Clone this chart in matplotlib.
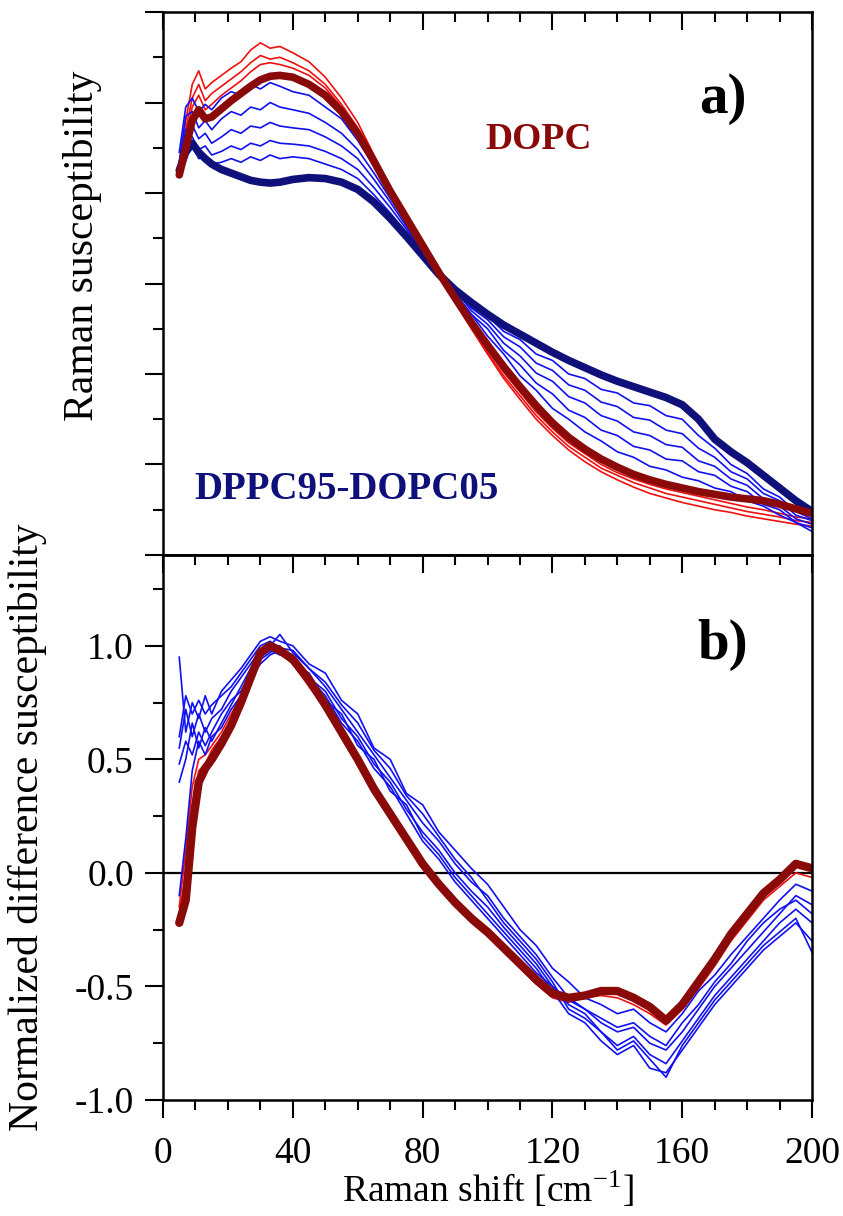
import numpy as np
import matplotlib
matplotlib.use("Agg")
import matplotlib.pyplot as plt
from matplotlib.ticker import MultipleLocator, NullFormatter, FormatStrFormatter

plt.rcParams['font.family'] = ['Liberation Serif', 'DejaVu Serif']
plt.rcParams['mathtext.fontset'] = 'stix'
plt.rcParams['axes.unicode_minus'] = False

# Raman shift grid [cm-1]
shift = [5, 7, 9, 11, 13, 15, 18, 21, 24, 27, 30, 33, 36, 40, 45, 50, 55, 60, 65, 70,
         75, 80, 85, 90, 95, 100, 105, 110, 115, 120, 125, 130, 135, 140, 145, 150,
         155, 160, 165, 170, 175, 180, 185, 190, 195, 200]

# ---- panel a: Raman susceptibility (arb. units) ----
dopc_a = [4.20, 4.50, 4.80, 4.92, 4.82, 4.84, 4.93, 5.02, 5.10, 5.18, 5.25, 5.29, 5.30, 5.28,
          5.20, 5.08, 4.90, 4.66, 4.35, 4.02, 3.72, 3.42, 3.12, 2.84, 2.57, 2.32, 2.08, 1.86,
          1.65, 1.46, 1.30, 1.17, 1.06, 0.97, 0.89, 0.83, 0.78, 0.74, 0.70, 0.67, 0.64, 0.62,
          0.60, 0.56, 0.51, 0.46]
dppc_a = [4.25, 4.45, 4.55, 4.45, 4.38, 4.32, 4.26, 4.22, 4.18, 4.14, 4.12, 4.11, 4.12, 4.15,
          4.17, 4.16, 4.12, 4.04, 3.90, 3.72, 3.52, 3.31, 3.10, 2.93, 2.79, 2.66, 2.54, 2.44,
          2.34, 2.24, 2.15, 2.07, 1.99, 1.92, 1.86, 1.80, 1.74, 1.66, 1.50, 1.28, 1.14, 1.02,
          0.88, 0.74, 0.60, 0.48]

blue_a1 = [4.45, 4.95, 5.05, 4.90, 4.98, 4.92, 5.05, 5.12, 5.08, 5.20, 5.15, 5.22, 5.18, 5.12,
           5.08, 4.95, 4.82, 4.58, 4.30, 3.98, 3.70, 3.40, 3.12, 2.88, 2.66, 2.42, 2.22, 1.98,
           1.82, 1.62, 1.50, 1.36, 1.26, 1.14, 1.08, 0.98, 0.94, 0.86, 0.82, 0.74, 0.70, 0.60,
           0.54, 0.44, 0.36, 0.26]
blue_a2 = [4.35, 4.85, 4.90, 4.72, 4.80, 4.70, 4.82, 4.90, 4.86, 4.95, 4.92, 5.00, 4.95, 4.92,
           4.88, 4.78, 4.66, 4.48, 4.22, 3.94, 3.66, 3.38, 3.11, 2.90, 2.66, 2.50, 2.26, 2.10,
           1.90, 1.78, 1.60, 1.52, 1.38, 1.32, 1.20, 1.16, 1.06, 1.04, 0.92, 0.88, 0.76, 0.70,
           0.56, 0.50, 0.36, 0.30]
blue_a3 = [4.30, 4.70, 4.75, 4.60, 4.66, 4.55, 4.62, 4.70, 4.66, 4.74, 4.72, 4.78, 4.74, 4.72,
           4.70, 4.62, 4.52, 4.38, 4.15, 3.90, 3.63, 3.36, 3.10, 2.93, 2.70, 2.55, 2.34, 2.20,
           2.01, 1.92, 1.75, 1.68, 1.54, 1.48, 1.36, 1.32, 1.22, 1.19, 1.04, 0.98, 0.84, 0.77,
           0.62, 0.54, 0.40, 0.34]
blue_a4 = [4.25, 4.60, 4.62, 4.48, 4.52, 4.42, 4.46, 4.52, 4.48, 4.55, 4.52, 4.58, 4.55, 4.54,
           4.52, 4.46, 4.38, 4.26, 4.06, 3.84, 3.60, 3.34, 3.10, 2.94, 2.73, 2.60, 2.41, 2.30,
           2.12, 2.04, 1.88, 1.82, 1.69, 1.64, 1.52, 1.49, 1.38, 1.34, 1.18, 1.08, 0.92, 0.84,
           0.68, 0.60, 0.44, 0.38]
blue_a5 = [4.20, 4.50, 4.52, 4.38, 4.40, 4.32, 4.34, 4.38, 4.34, 4.40, 4.36, 4.42, 4.38, 4.40,
           4.38, 4.32, 4.26, 4.16, 3.98, 3.78, 3.56, 3.32, 3.10, 2.95, 2.75, 2.64, 2.47, 2.38,
           2.22, 2.15, 2.00, 1.95, 1.83, 1.79, 1.68, 1.65, 1.54, 1.50, 1.32, 1.18, 1.00, 0.90,
           0.73, 0.64, 0.48, 0.40]

red_a1 = [4.30, 4.80, 5.20, 5.35, 5.15, 5.22, 5.30, 5.38, 5.45, 5.58, 5.66, 5.60, 5.62, 5.55,
          5.45, 5.28, 5.05, 4.78, 4.42, 4.06, 3.74, 3.42, 3.10, 2.80, 2.52, 2.24, 1.98, 1.76,
          1.54, 1.36, 1.20, 1.08, 0.96, 0.88, 0.80, 0.74, 0.68, 0.64, 0.60, 0.56, 0.52, 0.48,
          0.45, 0.42, 0.38, 0.36]
red_a2 = [4.25, 4.70, 5.05, 5.20, 5.02, 5.10, 5.18, 5.26, 5.34, 5.44, 5.52, 5.48, 5.50, 5.44,
          5.35, 5.20, 4.98, 4.72, 4.38, 4.03, 3.72, 3.40, 3.09, 2.79, 2.50, 2.22, 1.95, 1.72,
          1.50, 1.32, 1.16, 1.03, 0.92, 0.83, 0.75, 0.68, 0.63, 0.58, 0.54, 0.50, 0.47, 0.43,
          0.40, 0.37, 0.34, 0.32]
red_a3 = [4.22, 4.62, 4.95, 5.08, 4.92, 4.98, 5.08, 5.16, 5.24, 5.34, 5.42, 5.44, 5.42, 5.38,
          5.30, 5.16, 4.95, 4.70, 4.37, 4.03, 3.72, 3.41, 3.10, 2.81, 2.55, 2.28, 2.02, 1.80,
          1.58, 1.40, 1.24, 1.12, 1.00, 0.91, 0.84, 0.78, 0.73, 0.69, 0.65, 0.61, 0.57, 0.53,
          0.50, 0.46, 0.42, 0.40]

# ---- panel b: normalized difference susceptibility ----
dopc_b = [-0.22, -0.12, 0.20, 0.40, 0.46, 0.50, 0.57, 0.65, 0.75, 0.86, 0.97, 1.00, 0.98, 0.94,
          0.85, 0.74, 0.62, 0.50, 0.37, 0.26, 0.15, 0.04, -0.05, -0.13, -0.20, -0.26, -0.33,
          -0.40, -0.47, -0.53, -0.55, -0.54, -0.52, -0.52, -0.55, -0.59, -0.65, -0.58, -0.48,
          -0.38, -0.27, -0.18, -0.09, -0.03, 0.04, 0.02]

blue_b1 = [0.95, 0.62, 0.75, 0.68, 0.78, 0.70, 0.80, 0.85, 0.90, 0.96, 1.02, 1.04, 1.02, 1.00,
           0.92, 0.88, 0.76, 0.70, 0.55, 0.50, 0.35, 0.30, 0.18, 0.10, 0.02, -0.05, -0.15,
           -0.25, -0.32, -0.42, -0.48, -0.55, -0.58, -0.62, -0.60, -0.66, -0.70, -0.62, -0.52,
           -0.45, -0.36, -0.28, -0.20, -0.12, -0.05, -0.08]
blue_b2 = [0.55, 0.72, 0.60, 0.70, 0.62, 0.68, 0.72, 0.80, 0.86, 0.92, 0.98, 1.00, 1.05, 0.97,
           0.90, 0.82, 0.72, 0.62, 0.52, 0.42, 0.32, 0.22, 0.14, 0.04, -0.04, -0.10, -0.20,
           -0.28, -0.36, -0.46, -0.55, -0.60, -0.66, -0.70, -0.68, -0.75, -0.78, -0.70, -0.60,
           -0.50, -0.42, -0.34, -0.26, -0.18, -0.10, -0.14]
blue_b3 = [0.40, 0.50, 0.66, 0.55, 0.64, 0.58, 0.66, 0.74, 0.82, 0.90, 0.95, 0.98, 0.96, 0.95,
           0.86, 0.80, 0.68, 0.60, 0.48, 0.40, 0.28, 0.18, 0.10, 0.00, -0.08, -0.15, -0.24,
           -0.32, -0.40, -0.50, -0.58, -0.62, -0.70, -0.76, -0.72, -0.80, -0.84, -0.74, -0.64,
           -0.54, -0.46, -0.38, -0.30, -0.22, -0.16, -0.22]
blue_b4 = [0.48, 0.58, 0.52, 0.62, 0.56, 0.62, 0.70, 0.76, 0.80, 0.88, 0.94, 0.97, 1.00, 0.92,
           0.88, 0.76, 0.70, 0.56, 0.50, 0.36, 0.30, 0.16, 0.08, -0.02, -0.10, -0.18, -0.26,
           -0.34, -0.42, -0.52, -0.62, -0.66, -0.74, -0.80, -0.76, -0.86, -0.88, -0.78, -0.68,
           -0.58, -0.50, -0.42, -0.34, -0.28, -0.22, -0.30]
blue_b5 = [-0.10, 0.15, 0.45, 0.58, 0.52, 0.60, 0.64, 0.72, 0.78, 0.86, 0.92, 0.96, 0.98, 0.96,
           0.86, 0.78, 0.66, 0.58, 0.46, 0.38, 0.26, 0.14, 0.06, -0.04, -0.12, -0.20, -0.28,
           -0.36, -0.44, -0.50, -0.56, -0.60, -0.64, -0.68, -0.66, -0.72, -0.76, -0.66, -0.58,
           -0.48, -0.40, -0.30, -0.22, -0.16, -0.12, -0.18]
blue_b6 = [0.60, 0.78, 0.70, 0.76, 0.70, 0.74, 0.78, 0.82, 0.88, 0.94, 1.00, 1.02, 0.99, 0.98,
           0.90, 0.84, 0.74, 0.66, 0.54, 0.46, 0.34, 0.26, 0.16, 0.06, -0.02, -0.12, -0.22,
           -0.30, -0.38, -0.48, -0.60, -0.64, -0.70, -0.78, -0.74, -0.82, -0.90, -0.76, -0.66,
           -0.56, -0.48, -0.40, -0.32, -0.26, -0.20, -0.35]

red_b1 = [-0.18, 0.00, 0.30, 0.45, 0.48, 0.54, 0.60, 0.66, 0.76, 0.88, 0.98, 1.01, 0.99, 0.93,
          0.84, 0.73, 0.61, 0.49, 0.38, 0.27, 0.16, 0.05, -0.04, -0.12, -0.19, -0.25, -0.32,
          -0.39, -0.46, -0.52, -0.54, -0.53, -0.51, -0.53, -0.56, -0.60, -0.64, -0.57, -0.47,
          -0.37, -0.27, -0.18, -0.10, -0.04, 0.03, 0.02]
red_b2 = [-0.15, 0.10, 0.38, 0.50, 0.52, 0.56, 0.62, 0.70, 0.78, 0.88, 0.96, 0.99, 0.97, 0.92,
          0.82, 0.72, 0.60, 0.48, 0.36, 0.25, 0.14, 0.03, -0.06, -0.14, -0.22, -0.28, -0.35,
          -0.42, -0.49, -0.55, -0.57, -0.55, -0.54, -0.55, -0.58, -0.62, -0.67, -0.60, -0.51,
          -0.41, -0.30, -0.21, -0.12, -0.06, 0.00, -0.02]

thin_red = '#f01010'
thin_blue = '#1010f0'
navy = '#10107a'
maroon = '#8a0a0a'

fig = plt.figure(figsize=(8.43, 12.16), dpi=100)
ax_a = fig.add_axes([0.1934, 0.5436, 0.7699, 0.4465])
ax_b = fig.add_axes([0.1934, 0.0954, 0.7699, 0.4482])

# panel a
for y in [red_a1, red_a2, red_a3]:
    ax_a.plot(shift, y, color=thin_red, lw=1.2)
for y in [blue_a1, blue_a2, blue_a3, blue_a4, blue_a5]:
    ax_a.plot(shift, y, color=thin_blue, lw=1.2)
ax_a.plot(shift, dppc_a, color=navy, lw=5.5, solid_capstyle='round')
ax_a.plot(shift, dopc_a, color=maroon, lw=5.5, solid_capstyle='round')

ax_a.set_xlim(0, 200)
ax_a.set_ylim(0, 6)
ax_a.yaxis.set_major_locator(MultipleLocator(1))
ax_a.yaxis.set_minor_locator(MultipleLocator(0.5))
ax_a.yaxis.set_major_formatter(NullFormatter())
ax_a.xaxis.set_major_locator(MultipleLocator(40))
ax_a.xaxis.set_minor_locator(MultipleLocator(10))
ax_a.tick_params(axis='x', which='both', direction='in', top=True, bottom=False,
                 labelbottom=False)
ax_a.tick_params(axis='y', which='both', direction='out', right=False)
ax_a.set_ylabel('Raman susceptibility', fontsize=30)
ax_a.yaxis.set_label_coords(-0.094, 0.57)
ax_a.text(0.862, 0.84, 'a)', transform=ax_a.transAxes, fontsize=41, fontweight='bold',
          ha='center', va='center')
ax_a.text(0.578, 0.765, 'DOPC', transform=ax_a.transAxes, fontsize=27, fontweight='bold',
          color=maroon, ha='center', va='center')
ax_a.text(0.049, 0.12, 'DPPC95-DOPC05', transform=ax_a.transAxes, fontsize=28,
          fontweight='bold', color=navy, ha='left', va='center')

# panel b
ax_b.axhline(0, color='black', lw=1.6, zorder=1)
for y in [red_b1, red_b2]:
    ax_b.plot(shift, y, color=thin_red, lw=1.2)
for y in [blue_b1, blue_b2, blue_b3, blue_b4, blue_b5, blue_b6]:
    ax_b.plot(shift, y, color=thin_blue, lw=1.2)
ax_b.plot(shift, dopc_b, color=maroon, lw=6, solid_capstyle='round')

ax_b.set_xlim(0, 200)
ax_b.set_ylim(-1.0, 1.4)
ax_b.yaxis.set_major_locator(MultipleLocator(0.5))
ax_b.yaxis.set_minor_locator(MultipleLocator(0.25))
ax_b.yaxis.set_major_formatter(FormatStrFormatter('%.1f'))
ax_b.xaxis.set_major_locator(MultipleLocator(40))
ax_b.xaxis.set_minor_locator(MultipleLocator(10))
ax_b.tick_params(axis='both', which='both', direction='out', top=False, right=False)
top_b = ax_b.secondary_xaxis('top')
top_b.xaxis.set_major_locator(MultipleLocator(40))
top_b.xaxis.set_minor_locator(MultipleLocator(10))
top_b.tick_params(axis='x', which='both', direction='in', labeltop=False)
top_b.tick_params(which='major', length=13, width=1.5)
top_b.tick_params(which='minor', length=7, width=1.5)
ax_b.set_xlabel(r'Raman shift [cm$^{\mathregular{-1}}$]', fontsize=27)
ax_b.xaxis.set_label_coords(0.5, -0.128)
ax_b.set_ylabel('Normalized difference susceptibility', fontsize=30)
ax_b.yaxis.set_label_coords(-0.179, 0.50)
ax_b.text(0.862, 0.835, 'b)', transform=ax_b.transAxes, fontsize=41, fontweight='bold',
          ha='center', va='center')

for ax in (ax_a, ax_b):
    for sp in ax.spines.values():
        sp.set_linewidth(1.8)
    ax.tick_params(which='major', length=13, width=1.5, labelsize=27)
    ax.tick_params(which='minor', length=7, width=1.5)
ax_b.tick_params(axis='x', which='major', pad=13)
ax_b.tick_params(axis='y', which='major', pad=8)
top_b.spines['top'].set_linewidth(1.8)

fig.savefig('out.png', dpi=100)
